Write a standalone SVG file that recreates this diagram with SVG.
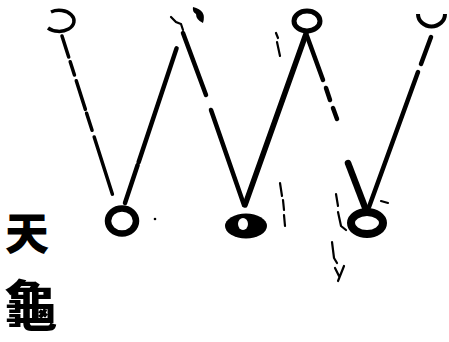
<svg xmlns="http://www.w3.org/2000/svg" width="449" height="342" viewBox="0 0 449 342">
<style>
.ln{stroke:#000;fill:none;stroke-linecap:round}
.ring{stroke:#000;fill:none}
.mk{stroke:#000;fill:none;stroke-width:2.2;stroke-linecap:round}
.lbl{font-family:"Noto Sans CJK TC","Noto Sans CJK SC",sans-serif;font-weight:900;fill:#000}
</style>
<rect width="449" height="342" fill="#fff"/>
<g id="connectors">
<path class="ln" d="M62,36 L113,196" stroke-width="3.5" stroke-dasharray="22,5,14,6,30,4,18,7,60"/>
<path class="ln" d="M125,203 L182,32" stroke-width="4.5" stroke-dasharray="40,3,120"/>
<path class="ln" d="M183,33 L206,95 M211,110 L244,205" stroke-width="4.5"/>
<path class="ln" d="M245,205 L306,34" stroke-width="5.5"/>
<path class="ln" d="M307,36 L323,80 M326,88 L330,100 M333,108 L337,119" stroke-width="4.5"/>
<path class="ln" d="M348,163 L366,210" stroke-width="6.5"/>
<path class="ln" d="M369,207 L418,72 M421,64 L431,37" stroke-width="4.5"/>
</g>
<g id="star1"><path class="ring" stroke-width="3.5" d="M51,12 A15,10.5 0 1 1 48,28"/></g>
<g id="star2"><path d="M193,7 Q207,10 203,23 Q196,20 196,14 Q192,12 193,7 Z" fill="#000"/><path class="mk" d="M171,17 L176,22 L181,24 L183,30"/></g>
<g id="star3"><ellipse class="ring" stroke-width="5" cx="307" cy="21" rx="13" ry="10"/></g>
<g id="star4"><path class="ring" stroke-width="4" d="M418,14 A13,12 0 0 0 445,14"/></g>
<g id="star5"><ellipse class="ring" stroke-width="6.5" cx="122" cy="221" rx="14" ry="12.5"/></g>
<g id="star6"><ellipse cx="246" cy="226" rx="21" ry="12.5" fill="#000"/><ellipse cx="243" cy="224" rx="5" ry="6" fill="#fff"/></g>
<g id="star7"><ellipse class="ring" stroke-width="8" cx="367" cy="223" rx="16" ry="11"/></g>
<g id="marks">
<path class="mk" d="M276,33 L278,38 M277,42 L280,56"/>
<path class="mk" d="M280,183 L282,196 M283,200 L284,210 M284,215 L285,226"/>
<path class="mk" d="M336,194 L338,206 M338,212 L341,226 L346,230"/>
<path class="mk" d="M332,242 L334,258 L337,263 M335,268 L339,276 M344,266 L338,281"/>
<path class="mk" d="M381,201 L388,203"/>
<circle cx="155" cy="219" r="1.3" fill="#000"/>
</g>
<text class="lbl" x="5" y="250" font-size="44">天</text>
<text class="lbl" x="4" y="326" font-size="54">龜</text>
</svg>
